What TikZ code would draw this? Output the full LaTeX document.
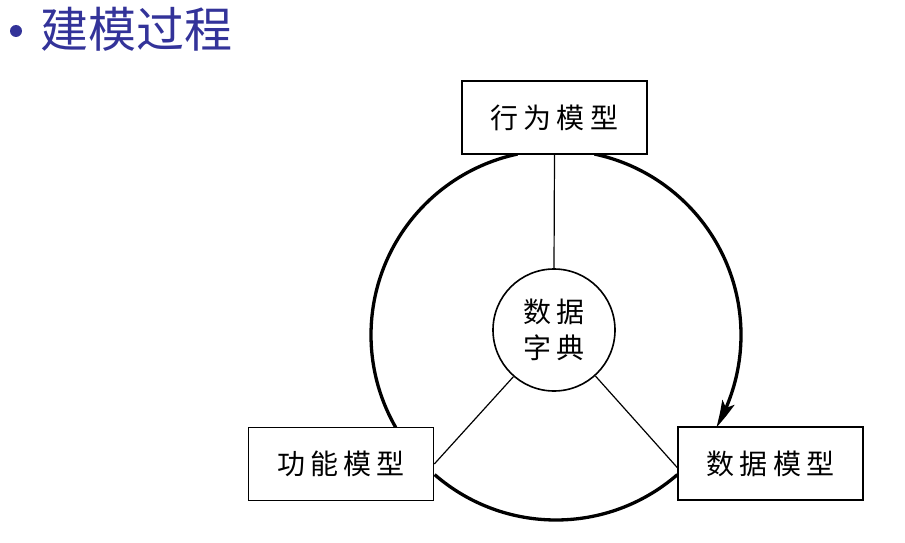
\documentclass[tikz,border=0pt]{standalone}
\usepackage{fontspec}
\newfontfamily\cjk{Noto Sans CJK SC}
\newfontfamily\cjkwide{Noto Sans CJK SC}[LetterSpace=18]
\usetikzlibrary{arrows.meta,bending,calc}
\definecolor{titleblue}{RGB}{51,51,153}
\tikzset{
  modelbox/.style={draw,line width=1.6pt,fill=white,minimum width=185pt,minimum height=73pt,
    inner sep=0pt,font=\cjkwide\fontsize{28}{30}\selectfont},
  dictcircle/.style={draw,circle,line width=1.6pt,fill=white,minimum size=122pt,inner sep=0pt,
    align=center,font=\cjkwide\fontsize{28}{36}\selectfont},
  link/.style={line width=1.2pt},
  cycleline/.style={line width=3.3pt},
}
\begin{document}
\begin{tikzpicture}[x=1pt,y=1pt]
        \useasboundingbox (0,0) rectangle (905,542);

        % Titel
        \node[circle,fill=titleblue,inner sep=0pt,minimum size=12pt] (bullet) at (16,511) {};
        \node[anchor=west,inner sep=0pt,text=titleblue,font=\cjk\fontsize{48}{50}\selectfont]
        (title) at (40,513) {建模过程};

        % Kreislauf (Mittelpunkt und Radius)
        \coordinate (c) at (556,207);
        \def\loopr{185}

        \draw[cycleline] ($(c)+(210:\loopr)$) arc[start angle=210,end angle=102,radius=\loopr];
        \draw[cycleline,-{Stealth[length=28pt 0 0,width=13pt 0 0,inset=6pt,bend]}]
        ($(c)+(78:\loopr)$) arc[start angle=78,end angle=-30,radius=\loopr];
        \draw[cycleline] ($(c)+(229:\loopr)$) arc[start angle=229,end angle=311,radius=\loopr];

        % Modelle
        \node[modelbox] (beh) at (554.5,424.5) {行为模型};
        \node[modelbox] (fun) at (341,78) {功能模型};
        \node[modelbox] (dat) at (770.5,78.5) {数据模型};

        % Datenwoerterbuch
        \node[dictcircle] (dict) at (554,212) {数据\\字典};

        % Verbindungen
        \draw[link] (beh.south) -- (dict.north);
        \draw[link] (dict.229) -- (fun.east);
        \draw[link] (dict.-48) -- ([yshift=-4pt]dat.west);
\end{tikzpicture}
\end{document}
